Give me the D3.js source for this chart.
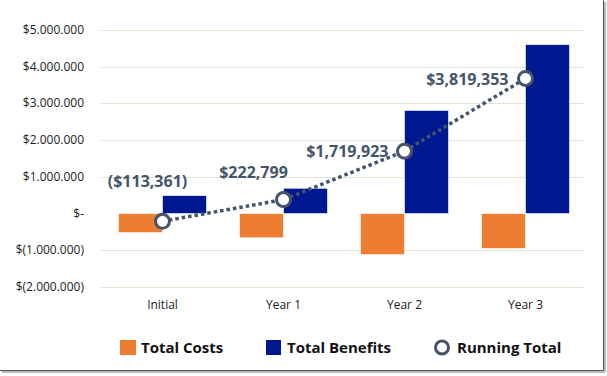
<!DOCTYPE html>
<html>
<head>
<meta charset="utf-8">
<script src="https://cdn.jsdelivr.net/npm/d3@7"></script>
<style>
  body { margin: 0; background: #fff; }
  svg { font-family: "Open Sans", "Noto Sans", sans-serif; }
</style>
</head>
<body>
<div id="chart"></div>
<script>
var categories = ["Initial", "Year 1", "Year 2", "Year 3"];
var totalCosts = [-520000, -660000, -1120000, -950000];
var totalBenefits = [490000, 690000, 2810000, 4600000];
var runningTotal = [-210000, 380000, 1700000, 3680000];
var runningLabels = ["($113,361)", "$222,799", "$1,719,923", "$3,819,353"];
var yTicks = [-2000000, -1000000, 0, 1000000, 2000000, 3000000, 4000000, 5000000];

var w = 607;
var h = 376;

var svg = d3.select("#chart").append("svg").attr("width", w).attr("height", h);

// frame (right / bottom edge with shadow)
svg.append("line").attr("x1", 603.5).attr("x2", 603.5).attr("y1", 0).attr("y2", 370.5)
    .attr("stroke", "#555").attr("stroke-width", 1);
svg.append("line").attr("x1", 0).attr("x2", 603.5).attr("y1", 370.5).attr("y2", 370.5)
    .attr("stroke", "#555").attr("stroke-width", 1);
svg.append("line").attr("x1", 605).attr("x2", 605).attr("y1", 2).attr("y2", 372)
    .attr("stroke", "#bbb").attr("stroke-width", 2);
svg.append("line").attr("x1", 2).attr("x2", 605).attr("y1", 372).attr("y2", 372)
    .attr("stroke", "#bbb").attr("stroke-width", 2);

var xScale = d3.scaleBand().domain(categories).range([102, 586]);
var yScale = d3.scaleLinear().domain([-2000000, 5000000]).range([287, 30]);
var barW = 44;

function fmt(v) {
    if (v === 0) return "$-";
    var s = d3.format(",")(Math.abs(v)).replace(/,/g, ".");
    return v < 0 ? "$(" + s + ")" : "$" + s;
}

// gridlines
svg.append("g").selectAll("line")
    .data(yTicks.filter(d => d !== 0))
    .enter().append("line")
    .attr("x1", 101).attr("x2", 584)
    .attr("y1", d => Math.round(yScale(d)) + 0.5)
    .attr("y2", d => Math.round(yScale(d)) + 0.5)
    .attr("stroke", "#dde8d2").attr("stroke-width", 1);

// y axis labels
svg.append("g").selectAll("text")
    .data(yTicks)
    .enter().append("text")
    .attr("x", 84)
    .attr("y", d => yScale(d) + 4)
    .attr("text-anchor", "end")
    .attr("font-size", 12)
    .attr("fill", "#222")
    .text(d => fmt(d));

// x axis labels
svg.append("g").selectAll("text")
    .data(categories)
    .enter().append("text")
    .attr("x", d => xScale(d) + xScale.bandwidth() / 2)
    .attr("y", 309)
    .attr("text-anchor", "middle")
    .attr("font-size", 12)
    .attr("fill", "#222")
    .text(d => d);

// bars
svg.append("g").selectAll("rect")
    .data(totalCosts)
    .enter().append("rect")
    .attr("x", (d, i) => xScale(categories[i]) + xScale.bandwidth() / 2 - barW)
    .attr("y", d => yScale(Math.max(0, d)))
    .attr("width", barW)
    .attr("height", d => Math.abs(yScale(d) - yScale(0)))
    .attr("fill", "#ED7D31")
    .attr("stroke", "#fff").attr("stroke-width", 0.6);

svg.append("g").selectAll("rect")
    .data(totalBenefits)
    .enter().append("rect")
    .attr("x", (d, i) => xScale(categories[i]) + xScale.bandwidth() / 2)
    .attr("y", d => yScale(Math.max(0, d)))
    .attr("width", barW)
    .attr("height", d => Math.abs(yScale(d) - yScale(0)))
    .attr("fill", "#00188F")
    .attr("stroke", "#fff").attr("stroke-width", 0.6);

// running total line
var lineColor = "#44546A";
var line = d3.line()
    .x((d, i) => xScale(categories[i]) + xScale.bandwidth() / 2)
    .y(d => yScale(d));

svg.append("path")
    .datum(runningTotal)
    .attr("d", line)
    .attr("fill", "none")
    .attr("stroke", lineColor)
    .attr("stroke-width", 3.5)
    .attr("stroke-dasharray", "3.5,3");

svg.append("g").selectAll("circle")
    .data(runningTotal)
    .enter().append("circle")
    .attr("cx", (d, i) => xScale(categories[i]) + xScale.bandwidth() / 2)
    .attr("cy", d => yScale(d))
    .attr("r", 7)
    .attr("fill", "#fff")
    .attr("stroke", lineColor)
    .attr("stroke-width", 3);

// labels: offsets relative to the point
var labelPos = [
    { dx: -15, dy: -34, anchor: "middle" },
    { dx: -30, dy: -22, anchor: "middle" },
    { dx: -16, dy: 6, anchor: "end" },
    { dx: -17, dy: 7, anchor: "end" }
];
svg.append("g").selectAll("text")
    .data(runningTotal)
    .enter().append("text")
    .attr("x", (d, i) => xScale(categories[i]) + xScale.bandwidth() / 2 + labelPos[i].dx)
    .attr("y", (d, i) => yScale(d) + labelPos[i].dy)
    .attr("text-anchor", (d, i) => labelPos[i].anchor)
    .attr("font-size", 16)
    .attr("font-weight", "bold")
    .attr("fill", lineColor)
    .text((d, i) => runningLabels[i]);

// legend
var legend = svg.append("g").attr("font-size", 15).attr("font-weight", "bold").attr("fill", "#111");
legend.append("rect").attr("x", 120).attr("y", 340).attr("width", 16).attr("height", 15).attr("fill", "#ED7D31");
legend.append("text").attr("x", 141).attr("y", 353).text("Total Costs");
legend.append("rect").attr("x", 266).attr("y", 340).attr("width", 15).attr("height", 15).attr("fill", "#00188F");
legend.append("text").attr("x", 287).attr("y", 353).text("Total Benefits");
legend.append("circle").attr("cx", 442).attr("cy", 347.5).attr("r", 6.5)
    .attr("fill", "#fff").attr("stroke", lineColor).attr("stroke-width", 3);
legend.append("text").attr("x", 457).attr("y", 353).text("Running Total");
</script>
</body>
</html>
